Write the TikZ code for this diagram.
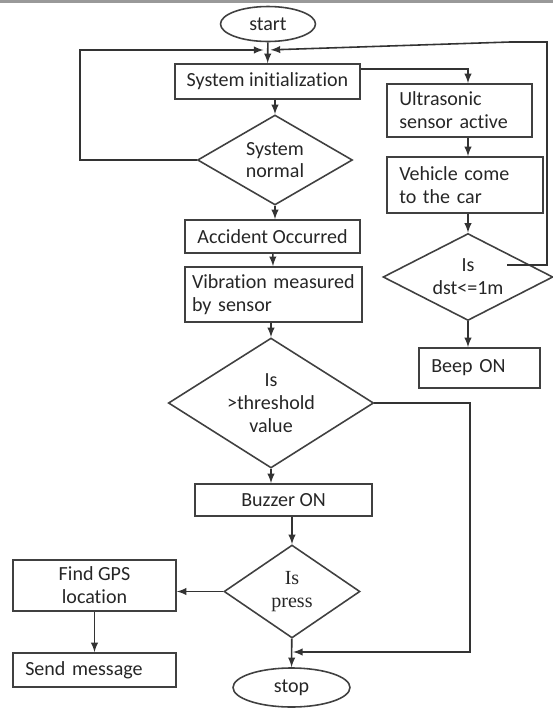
\documentclass[tikz,border=0pt]{standalone}
\usepackage{fontspec}
\setmainfont{Carlito}[Ligatures=NoCommon]
\newfontfamily\pressfont{Liberation Serif}
\usetikzlibrary{shapes.geometric}

\begin{document}
\begin{tikzpicture}[x=0.02cm,y=-0.02cm,
  every node/.style={font=\fontsize{11.4}{13}\selectfont, text=black!85},
  proc/.style={draw=black!75, line width=0.9pt, inner sep=0pt, align=center},
  procl/.style={draw=black!75, line width=0.9pt, inner xsep=7pt, inner ysep=0pt, align=left},
  decide/.style={diamond, draw=black!75, line width=0.9pt, inner sep=0pt, aspect=2, align=center},
  term/.style={ellipse, draw=black!75, line width=0.9pt, inner sep=0pt},
  arr/.style={->, >=latex, draw=black!80, line width=0.9pt}]

  \useasboundingbox (0,0) rectangle (553,711);
  \draw[black!40, line width=1.2pt] (0,1.5) -- (553,1.5);

  % Define nodes
  \node[term, minimum width=1.9cm, minimum height=0.7cm] (start) at (268,24) {start};
  \coordinate (jn) at (267,50);
  \node[proc, minimum width=3.7cm, minimum height=0.7cm] (init) at (267.5,81.5) {System initialization};
  \node[decide, minimum width=3.1cm, minimum height=1.8cm] (normal) at (275,160) {System\\normal};
  \node[proc, minimum width=3.5cm, minimum height=0.66cm] (accident) at (272.5,236.5) {Accident Occurred};
  \node[procl, inner xsep=4pt, text width=3.26cm, minimum height=1.1cm] (vibration) at (273.5,294.5) {Vibration measured\\by sensor};
  \node[decide, minimum width=3.96cm, minimum height=2.6cm] (thresh) at (271,403) {Is\\>threshold\\value};
  \node[proc, minimum width=3.54cm, minimum height=0.64cm] (buzzer) at (283.5,500) {Buzzer ON};
  \node[decide, font=\pressfont\fontsize{11.4}{13}\selectfont, minimum width=2.72cm, minimum height=1.86cm] (press) at (292,591.5) {Is\\press};
  \node[proc, minimum width=3.26cm, minimum height=1.02cm] (gps) at (94.5,585.5) {Find GPS\\location};
  \node[procl, text width=2.77cm, minimum height=0.68cm] (send) at (94.5,670) {Send message};
  \node[term, minimum width=2.34cm, minimum height=0.78cm] (stop) at (291.5,687.5) {stop};

  \node[procl, text width=2.41cm, minimum height=1.06cm] (ultra) at (459.5,110.5) {Ultrasonic\\sensor active};
  \node[procl, text width=2.63cm, minimum height=1.12cm] (vehicle) at (465,185) {Vehicle come\\to the car};
  \node[decide, minimum width=3.4cm, minimum height=1.74cm] (dst) at (468,277) {Is\\dst<=1m};
  \node[procl, text width=1.93cm, minimum height=0.8cm] (beep) at (479.5,368) {Beep ON};
  \coordinate (dstin) at (507,265);
  \coordinate (mrg) at (293,652);

  % Edges
  \draw[arr] (start) -- (init);
  \draw[arr] (init.south -| normal.north) -- (normal.north);
  \draw[arr] (normal.south) -- (normal.south |- accident.north);
  \draw[arr] (accident) -- (vibration);
  \draw[arr] (vibration.south -| thresh.north) -- (thresh.north);
  \draw[arr] (thresh.south) -- (thresh.south |- buzzer.north);
  \draw[arr] (press.north |- buzzer.south) -- (press.north);
  \draw[arr] (press.west) -- (press.west -| gps.east);
  \draw[arr] (gps) -- (send);
  \draw[arr] (press) -- (stop);

  \draw[arr] ([yshift=-0.12cm]init.north east) -| (ultra.north -| dst.north);
  \draw[arr] (ultra.south -| dst.north) -- (vehicle.north -| dst.north);
  \draw[arr] (vehicle.south -| dst.north) -- (dst.north);
  \draw[arr] (dst.south) -- (dst.south |- beep.north);

  % Loops
  \draw[arr, shorten >=2pt] (normal.west) -| (80,50) -- (jn);
  \draw[arr, shorten >=2pt] (dstin) -- (547,265) -- (547,42) -- (510,42) -- (jn);
  \draw[arr] (thresh.east) -| (470,652) -- (mrg);

\end{tikzpicture}
\end{document}
